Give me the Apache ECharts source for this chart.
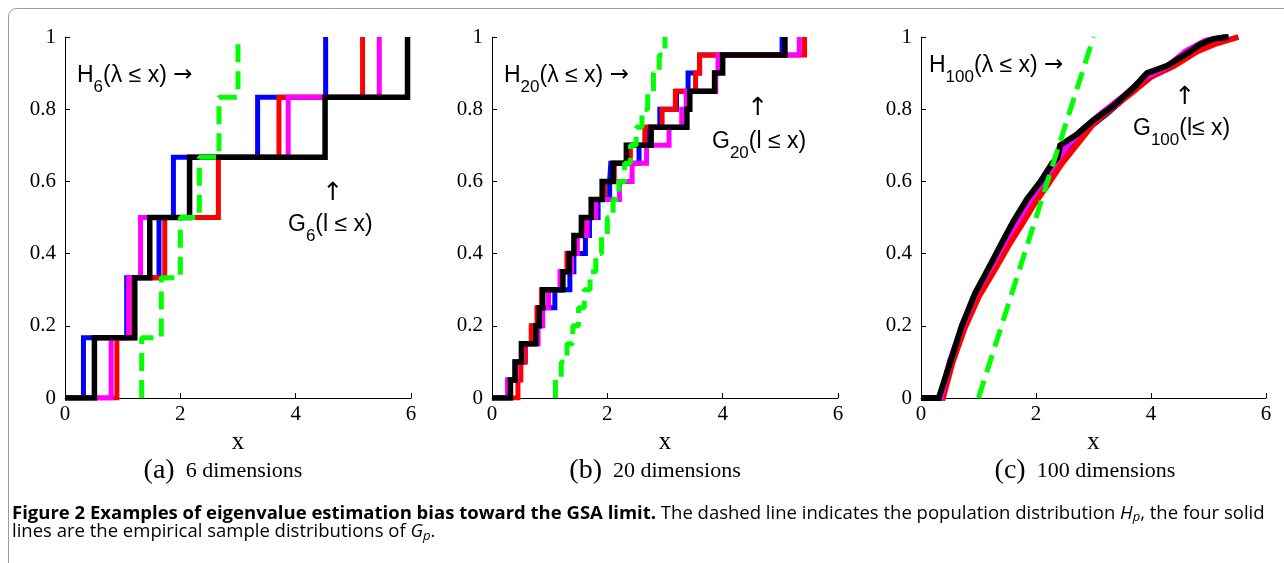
<!DOCTYPE html>
<html><head><meta charset="utf-8">
<script src="https://cdn.jsdelivr.net/npm/echarts@6/dist/echarts.min.js"></script>
<style>html,body{margin:0;padding:0;background:#fff}#c{width:1284px;height:563px}</style>
</head><body><div id="c"></div>
<script>
// ---------- data ----------
const xTicks = [0, 2, 4, 6];
const yTicks = [0, 0.2, 0.4, 0.6, 0.8, 1];

// (a) 6 dimensions: step locations of each empirical distribution
const popA     = [1.33, 1.67, 2.00, 2.33, 2.67, 3.00];
const blueA    = [0.32, 1.07, 1.63, 1.88, 3.34, 4.52];
const redA     = [0.90, 1.19, 1.73, 2.66, 3.71, 5.16];
const magentaA = [0.80, 1.10, 1.31, 2.16, 3.87, 5.45];
const blackA   = [0.51, 1.21, 1.47, 2.16, 4.51, 5.94];

// (b) 20 dimensions
const popB     = [1.1, 1.2, 1.3, 1.4, 1.5, 1.6, 1.7, 1.8, 1.9, 2.0, 2.1, 2.2, 2.3, 2.4, 2.5, 2.6, 2.7, 2.8, 2.9, 3.0];
const blueB    = [0.28, 0.40, 0.55, 0.72, 0.84, 1.09, 1.35, 1.42, 1.62, 1.69, 1.84, 2.04, 2.06, 2.55, 2.68, 2.91, 3.20, 3.40, 3.60, 5.03];
const redB     = [0.45, 0.50, 0.58, 0.68, 0.78, 0.86, 1.20, 1.30, 1.45, 1.60, 1.75, 1.95, 2.12, 2.40, 2.65, 2.95, 3.18, 3.53, 3.60, 5.42];
const magentaB = [0.27, 0.42, 0.53, 0.80, 0.88, 0.98, 1.18, 1.38, 1.48, 1.65, 1.80, 2.21, 2.43, 2.68, 3.07, 3.29, 3.37, 3.88, 3.92, 5.33];
const blackB   = [0.32, 0.40, 0.51, 0.76, 0.82, 0.88, 1.23, 1.34, 1.42, 1.55, 1.72, 1.91, 2.10, 2.33, 2.76, 3.38, 3.43, 3.86, 4.00, 5.08];

// (c) 100 dimensions: curves read as (x, F) pairs
const popC     = [[1.0, 0], [3.0, 1.0]];
const blueC    = [[0,0],[0.37,0],[0.53,0.10],[0.73,0.20],[0.96,0.29],[1.25,0.37],[1.50,0.44],[1.70,0.49],[1.92,0.55],[2.15,0.60],[2.35,0.65],[2.60,0.70],[2.85,0.74],[3.25,0.79],[3.60,0.84],[4.00,0.89],[4.40,0.93],[4.75,0.97],[5.00,0.99],[5.30,1.0]];
const redC     = [[0,0],[0.38,0],[0.55,0.10],[0.75,0.19],[1.00,0.28],[1.30,0.36],[1.55,0.43],[1.75,0.48],[1.98,0.54],[2.20,0.59],[2.45,0.65],[2.70,0.70],[3.00,0.76],[3.30,0.80],[3.70,0.85],[4.00,0.89],[4.40,0.92],[4.80,0.96],[5.10,0.98],[5.52,1.0]];
const magentaC = [[0,0],[0.34,0],[0.50,0.10],[0.72,0.20],[0.95,0.29],[1.24,0.37],[1.48,0.44],[1.68,0.49],[1.90,0.55],[2.12,0.60],[2.33,0.65],[2.55,0.70],[2.78,0.74],[3.15,0.79],[3.55,0.84],[3.90,0.89],[4.30,0.92],[4.60,0.96],[4.95,0.99],[5.35,1.0]];
const blackC   = [[0,0],[0.31,0],[0.51,0.10],[0.71,0.20],[0.94,0.29],[1.21,0.37],[1.44,0.44],[1.61,0.49],[1.84,0.55],[2.08,0.60],[2.28,0.65],[2.37,0.665],[2.42,0.70],[2.71,0.73],[3.00,0.77],[3.35,0.81],[3.70,0.86],[3.93,0.90],[4.28,0.92],[4.68,0.96],[4.86,0.98],[5.09,0.995],[5.35,1.0]];

// ---------- helpers ----------
function ecdf(xs, fromZero) {
  const n = xs.length;
  const d = [[fromZero ? 0 : xs[0], 0]];
  xs.forEach((x, i) => d.push([x, (i + 1) / n]));
  return d;
}
const COL = { blue: '#0000ff', red: '#ff0000', magenta: '#ff00ff', black: '#000000', green: '#00ff00' };
function solid(idx, data, color, step, w) {
  return { type: 'line', xAxisIndex: idx, yAxisIndex: idx, data: data, step: step ? 'end' : false,
    showSymbol: false, symbol: 'none', animation: false, silent: true,
    lineStyle: { color: color, width: w || 5, join: 'miter', cap: 'butt' } };
}
function dashed(idx, data, step) {
  return { type: 'line', xAxisIndex: idx, yAxisIndex: idx, data: data, step: step ? 'end' : false,
    showSymbol: false, symbol: 'none', animation: false, silent: true,
    lineStyle: { color: COL.green, width: 5, type: [18, 9], cap: 'butt' } };
}
const serif = "'Liberation Serif', 'Times New Roman', serif";
const sans = "'Liberation Sans', Arial, sans-serif";
const arrowFont = "'DejaVu Sans', sans-serif";
const lefts = [65, 492, 921];
const widths = [346, 346, 345];

const grids = lefts.map((l, i) => ({ left: l, top: 37, width: widths[i], height: 361, outerBoundsMode: 'none', containLabel: false }));
const xAxes = lefts.map((l, i) => ({
  type: 'value', gridIndex: i, min: xTicks[0], max: xTicks[xTicks.length - 1], interval: 2,
  axisLine: { show: true, onZero: false, lineStyle: { color: '#000', width: 1 } },
  axisTick: { show: true, inside: true, length: 5, lineStyle: { color: '#000', width: 1 } },
  axisLabel: { show: true, color: '#000', fontFamily: serif, fontSize: 21, margin: 6 },
  splitLine: { show: false },
  name: 'x', nameLocation: 'middle', nameGap: 24,
  nameTextStyle: { color: '#000', fontFamily: serif, fontSize: 25 }
}));
const yAxes = lefts.map((l, i) => ({
  type: 'value', gridIndex: i, min: yTicks[0], max: yTicks[yTicks.length - 1], interval: 0.2,
  axisLine: { show: true, onZero: false, lineStyle: { color: '#000', width: 1 } },
  axisTick: { show: true, inside: true, length: 5, lineStyle: { color: '#000', width: 1 } },
  axisLabel: { show: true, color: '#000', fontFamily: serif, fontSize: 21, margin: 9 },
  splitLine: { show: false }
}));

const series = [
  solid(0, ecdf(blueA, true), COL.blue, true),
  solid(0, ecdf(redA, true), COL.red, true),
  solid(0, ecdf(magentaA, true), COL.magenta, true),
  solid(0, ecdf(blackA, true), COL.black, true, 5.5),
  dashed(0, ecdf(popA, false), true),

  solid(1, ecdf(blueB, true), COL.blue, true),
  solid(1, ecdf(redB, true), COL.red, true),
  solid(1, ecdf(magentaB, true), COL.magenta, true),
  solid(1, ecdf(blackB, true), COL.black, true, 5.5),
  dashed(1, ecdf(popB, false), true),

  solid(2, blueC, COL.blue, false, 6),
  solid(2, redC, COL.red, false, 6),
  solid(2, magentaC, COL.magenta, false, 6),
  solid(2, blackC, COL.black, false, 6),
  dashed(2, popC, false)
];

// rich text styles for annotations
const richAnn = {
  m: { fontFamily: sans, fontSize: 23, lineHeight: 30, color: '#000' },
  a: { fontFamily: arrowFont, fontSize: 23, lineHeight: 30, color: '#000' },
  s: { fontFamily: sans, fontSize: 17, lineHeight: 30, color: '#000', padding: [24, 0, 0, 0] }
};
function ann(left, top, text) {
  return { type: 'text', left: left, top: top, silent: true, style: { text: text, rich: richAnn } };
}
function arrowUp(cx, cy) {
  return { type: 'text', x: cx, y: cy, silent: true,
    style: { text: '↑', font: "25px 'DejaVu Sans', sans-serif", fill: '#000', align: 'center', verticalAlign: 'middle' } };
}
const richSub = {
  p: { fontFamily: serif, fontSize: 28, lineHeight: 32, color: '#000' },
  t: { fontFamily: serif, fontSize: 22, lineHeight: 32, color: '#000' }
};
function subcap(cx, letter, txt) {
  return { type: 'text', x: cx, y: 471, silent: true,
    style: { text: '{p|(' + letter + ')}{t|  ' + txt + '}', rich: richSub, align: 'center', verticalAlign: 'middle' } };
}
const capFont = "'Open Sans', 'Noto Sans', sans-serif";
const richCap = {
  b: { fontFamily: capFont, fontSize: 18.5, fontWeight: 'bold', lineHeight: 18.5, color: '#000' },
  n: { fontFamily: capFont, fontSize: 18.5, lineHeight: 18.5, color: '#1a1a1a' },
  i: { fontFamily: capFont, fontSize: 18.5, fontStyle: 'italic', lineHeight: 18.5, color: '#1a1a1a' },
  s: { fontFamily: capFont, fontSize: 13, fontStyle: 'italic', lineHeight: 18.5, color: '#1a1a1a', padding: [8, 0, 0, 0] }
};

const graphic = [
  { type: 'rect', silent: true, shape: { x: 8.5, y: 8.5, width: 1400, height: 700, r: 8 },
    style: { fill: 'none', stroke: '#9a9a9a', lineWidth: 1 } },
  ann(77, 55, '{m|H}{s|6}{m|(λ ≤ x) }{a|→}'),
  arrowUp(333, 193),
  ann(288, 204, '{m|G}{s|6}{m|(l ≤ x)}'),
  ann(504, 55, '{m|H}{s|20}{m|(λ ≤ x) }{a|→}'),
  arrowUp(758, 108),
  ann(712, 121, '{m|G}{s|20}{m|(l ≤ x)}'),
  ann(929, 45, '{m|H}{s|100}{m|(λ ≤ x) }{a|→}'),
  arrowUp(1185, 97),
  ann(1133, 108, '{m|G}{s|100}{m|(l≤ x)}'),
  subcap(223, 'a', '6 dimensions'),
  subcap(655, 'b', '20 dimensions'),
  subcap(1085, 'c', '100 dimensions'),
  { type: 'text', left: 12, top: 503, silent: true,
    style: { rich: richCap,
      text: '{b|Figure 2 Examples of eigenvalue estimation bias toward the GSA limit.}{n| The dashed line indicates the population distribution }{i|H}{s|p}{n|, the four solid}\n{n|lines are the empirical sample distributions of }{i|G}{s|p}{n|.}' } }
];

const chart = echarts.init(document.getElementById('c'), null, { renderer: 'canvas' });
chart.setOption({
  animation: false,
  backgroundColor: '#fff',
  grid: grids, xAxis: xAxes, yAxis: yAxes, series: series, graphic: graphic
});
</script>
</body></html>
